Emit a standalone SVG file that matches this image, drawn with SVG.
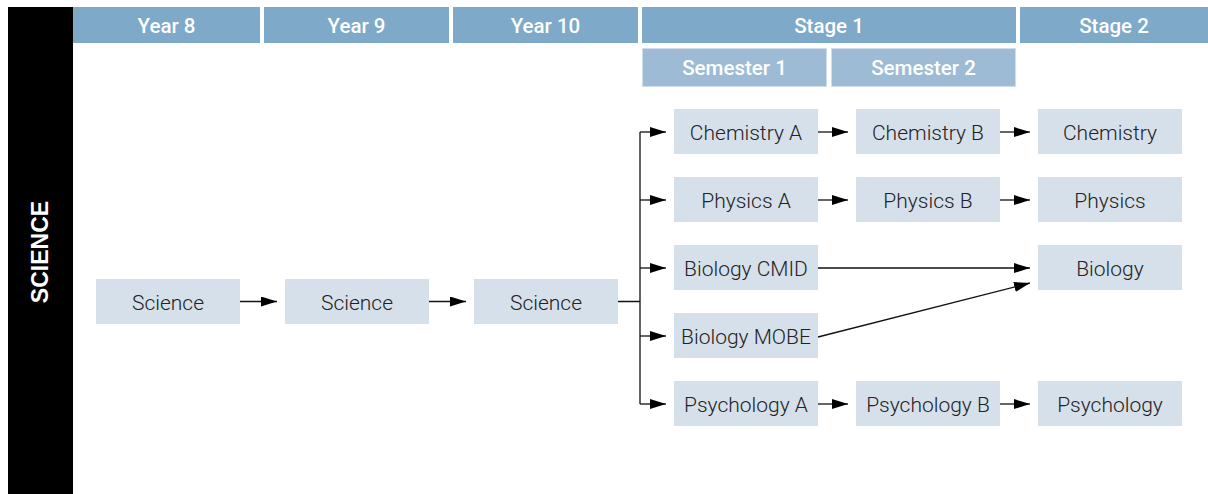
<svg xmlns="http://www.w3.org/2000/svg" width="1208" height="494" viewBox="0 0 1208 494">
<defs>
<style>
.hdr{fill:#7ea9c9}
.sem{fill:#9dbbd4;stroke:#cfdeea;stroke-width:1}
.ht{font-family:Roboto,"Liberation Sans",sans-serif;font-weight:500;font-size:20.5px;fill:#fff;text-anchor:middle}
.box{fill:#d6e0ea}
.nt{font-family:Roboto,"Liberation Sans",sans-serif;font-weight:300;font-size:21px;fill:#222;text-anchor:middle}
.ln{stroke:#111;stroke-width:1.3;fill:none}
.ar{stroke:#111;stroke-width:1.3;fill:none;marker-end:url(#ah)}
</style>
<marker id="ah" markerWidth="16" markerHeight="10" refX="16" refY="5" orient="auto" markerUnits="userSpaceOnUse">
<path d="M0,0 L16,5 L0,10 Z" fill="#000"/>
</marker>
</defs>
<rect width="1208" height="494" fill="#fff"/>
<g id="sidebar">
<rect x="8" y="7" width="65" height="487" fill="#000"/>
<text x="48" y="252" transform="rotate(-90 48 252)" font-family="'Liberation Sans',Arial,sans-serif" font-weight="bold" font-size="23" fill="#fff" text-anchor="middle">SCIENCE</text>
</g>
<g id="headers">
<rect class="hdr" x="73" y="7" width="187" height="36"/><text class="ht" x="166.5" y="32.5">Year 8</text>
<rect class="hdr" x="264" y="7" width="185" height="36"/><text class="ht" x="356.5" y="32.5">Year 9</text>
<rect class="hdr" x="453" y="7" width="185" height="36"/><text class="ht" x="545.5" y="32.5">Year 10</text>
<rect class="hdr" x="642" y="7" width="374" height="36"/><text class="ht" x="829" y="32.5">Stage 1</text>
<rect class="hdr" x="1020" y="7" width="188" height="36"/><text class="ht" x="1114" y="32.5">Stage 2</text>
<rect class="sem" x="642.5" y="48.5" width="184" height="38"/><text class="ht" x="734.5" y="75">Semester 1</text>
<rect class="sem" x="831.5" y="48.5" width="184" height="38"/><text class="ht" x="923.5" y="75">Semester 2</text>
</g>
<g id="connectors">
<path class="ar" d="M240,301.5 H277"/>
<path class="ar" d="M429,301.5 H466"/>
<path class="ln" d="M618,301.5 H640 M640,132 V404"/>
<path class="ar" d="M640,132 H666"/>
<path class="ar" d="M640,200 H666"/>
<path class="ar" d="M640,268 H666"/>
<path class="ar" d="M640,336 H666"/>
<path class="ar" d="M640,404 H666"/>
<path class="ar" d="M818,132 H848"/>
<path class="ar" d="M818,200 H848"/>
<path class="ar" d="M818,404 H848"/>
<path class="ar" d="M1000,132 H1030"/>
<path class="ar" d="M1000,200 H1030"/>
<path class="ar" d="M1000,404 H1030"/>
<path class="ar" d="M818,268 H1030"/>
<path class="ar" d="M818,337 L1030,283"/>
</g>
<g id="n-sci8"><rect class="box" x="96" y="279" width="144" height="45"/><text class="nt" x="168" y="310">Science</text></g>
<g id="n-sci9"><rect class="box" x="285" y="279" width="144" height="45"/><text class="nt" x="357" y="310">Science</text></g>
<g id="n-sci10"><rect class="box" x="474" y="279" width="144" height="45"/><text class="nt" x="546" y="310">Science</text></g>
<g id="n-chemA"><rect class="box" x="674" y="109" width="144" height="45"/><text class="nt" x="746" y="140">Chemistry A</text></g>
<g id="n-chemB"><rect class="box" x="856" y="109" width="144" height="45"/><text class="nt" x="928" y="140">Chemistry B</text></g>
<g id="n-chem"><rect class="box" x="1038" y="109" width="144" height="45"/><text class="nt" x="1110" y="140">Chemistry</text></g>
<g id="n-physA"><rect class="box" x="674" y="177" width="144" height="45"/><text class="nt" x="746" y="208">Physics A</text></g>
<g id="n-physB"><rect class="box" x="856" y="177" width="144" height="45"/><text class="nt" x="928" y="208">Physics B</text></g>
<g id="n-phys"><rect class="box" x="1038" y="177" width="144" height="45"/><text class="nt" x="1110" y="208">Physics</text></g>
<g id="n-biocmid"><rect class="box" x="674" y="245" width="144" height="45"/><text class="nt" x="746" y="276">Biology CMID</text></g>
<g id="n-bio"><rect class="box" x="1038" y="245" width="144" height="45"/><text class="nt" x="1110" y="276">Biology</text></g>
<g id="n-biomobe"><rect class="box" x="674" y="313" width="144" height="45"/><text class="nt" x="746" y="344">Biology MOBE</text></g>
<g id="n-psyA"><rect class="box" x="674" y="381" width="144" height="45"/><text class="nt" x="746" y="412">Psychology A</text></g>
<g id="n-psyB"><rect class="box" x="856" y="381" width="144" height="45"/><text class="nt" x="928" y="412">Psychology B</text></g>
<g id="n-psy"><rect class="box" x="1038" y="381" width="144" height="45"/><text class="nt" x="1110" y="412">Psychology</text></g>
</svg>
